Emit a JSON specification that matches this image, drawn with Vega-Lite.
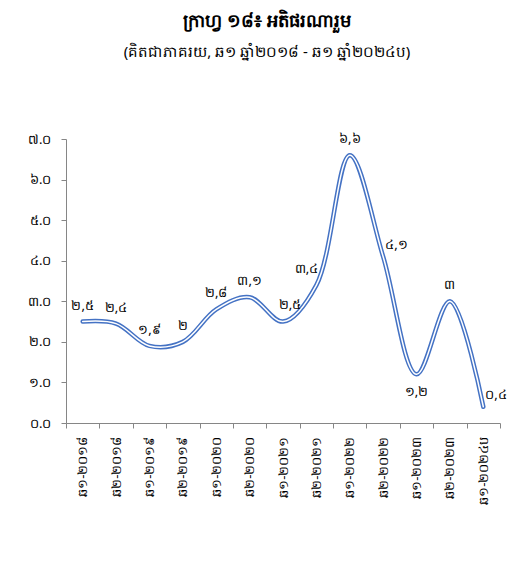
{
  "$schema": "https://vega.github.io/schema/vega-lite/v6.json",
  "autosize": "none",
  "width": 434,
  "height": 284,
  "padding": {"left": 66, "top": 139, "right": 16, "bottom": 155},
  "background": "white",
  "title": {
    "text": "ក្រាហ្វ ១៨៖ អតិផរណារួម",
    "subtitle": "(គិតជាភាគរយ, ឆ១ ឆ្នាំ២០១៨ - ឆ១ ឆ្នាំ២០២៤ប)",
    "anchor": "middle",
    "dx": -16,
    "offset": 73,
    "fontSize": 18,
    "fontWeight": "bold",
    "color": "black",
    "subtitleFontSize": 15,
    "subtitleColor": "black",
    "subtitlePadding": 14
  },
  "data": {
    "values": [
      {"period": "ឆ១-២០១៨", "value": 2.5, "label": "២,៥"},
      {"period": "ឆ២-២០១៨", "value": 2.45, "label": "២,៤"},
      {"period": "ឆ១-២០១៩", "value": 1.9, "label": "១,៩"},
      {"period": "ឆ២-២០១៩", "value": 2.0, "label": "២"},
      {"period": "ឆ១-២០២០", "value": 2.8, "label": "២,៨"},
      {"period": "ឆ២-២០២០", "value": 3.1, "label": "៣,១"},
      {"period": "ឆ១-២០២១", "value": 2.5, "label": "២,៥"},
      {"period": "ឆ២-២០២១", "value": 3.4, "label": "៣,៤"},
      {"period": "ឆ១-២០២២", "value": 6.6, "label": "៦,៦"},
      {"period": "ឆ២-២០២២", "value": 4.1, "label": "៤,១"},
      {"period": "ឆ១-២០២៣", "value": 1.2, "label": "១,២"},
      {"period": "ឆ២-២០២៣", "value": 3.0, "label": "៣"},
      {"period": "ឆ១-២០២៤ប", "value": 0.4, "label": "០,៤"}
    ]
  },
  "encoding": {
    "x": {
      "field": "period",
      "type": "nominal",
      "sort": null,
      "scale": {"type": "band", "paddingInner": 0, "paddingOuter": 0},
      "axis": {
        "title": null,
        "labelAngle": -90,
        "labelFontSize": 13,
        "labelColor": "black",
        "labelPadding": 8,
        "tickBand": "extent",
        "tickSize": 5,
        "tickColor": "#868686",
        "domainColor": "#868686",
        "grid": false
      }
    },
    "y": {
      "field": "value",
      "type": "quantitative",
      "scale": {"domain": [0, 7], "nice": false},
      "axis": {
        "title": null,
        "values": [0, 1, 2, 3, 4, 5, 6, 7],
        "labelExpr": "['០.០','១.០','២.០','៣.០','៤.០','៥.០','៦.០','៧.០'][datum.value]",
        "labelFontSize": 13,
        "labelColor": "black",
        "labelPadding": 10,
        "tickSize": 5,
        "tickColor": "#868686",
        "domainColor": "#868686",
        "grid": false
      }
    }
  },
  "layer": [
    {"mark": {"type": "line", "interpolate": "catmull-rom", "color": "#4472C4", "strokeWidth": 4.5, "strokeCap": "round"}},
    {"mark": {"type": "line", "interpolate": "catmull-rom", "color": "white", "strokeWidth": 1.5, "strokeCap": "round"}},
    {
      "transform": [{"filter": {"field": "period", "oneOf": ["ឆ១-២០១៨", "ឆ២-២០១៨", "ឆ១-២០១៩", "ឆ២-២០១៩", "ឆ១-២០២០", "ឆ២-២០២០", "ឆ១-២០២២", "ឆ២-២០២៣"]}}],
      "mark": {"type": "text", "dy": -16, "fontSize": 13, "color": "black"},
      "encoding": {"text": {"field": "label"}}
    },
    {
      "transform": [{"filter": {"field": "period", "oneOf": ["ឆ២-២០២១"]}}],
      "mark": {"type": "text", "dy": -16, "dx": -10, "fontSize": 13, "color": "black"},
      "encoding": {"text": {"field": "label"}}
    },
    {
      "transform": [{"filter": {"field": "period", "oneOf": ["ឆ១-២០២១"]}}],
      "mark": {"type": "text", "dy": -17, "dx": 7, "fontSize": 13, "color": "black"},
      "encoding": {"text": {"field": "label"}}
    },
    {
      "transform": [{"filter": {"field": "period", "oneOf": ["ឆ២-២០២២", "ឆ១-២០២៤ប"]}}],
      "mark": {"type": "text", "dx": 2, "dy": -12, "align": "left", "fontSize": 13, "color": "black"},
      "encoding": {"text": {"field": "label"}}
    },
    {
      "transform": [{"filter": {"field": "period", "oneOf": ["ឆ១-២០២៣"]}}],
      "mark": {"type": "text", "dy": 18, "fontSize": 13, "color": "black"},
      "encoding": {"text": {"field": "label"}}
    }
  ],
  "config": {
    "view": {"stroke": null},
    "font": "Noto Sans"
  }
}
